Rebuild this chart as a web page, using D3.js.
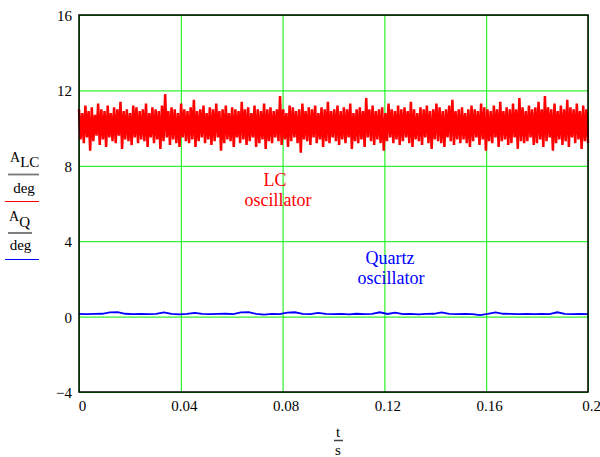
<!DOCTYPE html>
<html>
<head>
<meta charset="utf-8">
<script src="https://cdn.jsdelivr.net/npm/d3@7.9.0/dist/d3.min.js"></script>
<style>
  body { margin: 0; background: #fff; }
  svg text { font-family: "Liberation Serif", "Times New Roman", Times, "DejaVu Serif", serif; }
</style>
</head>
<body>
<svg id="chart" width="600" height="457"></svg>
<script>
// axis ticks
const xTicks = [0, 0.04, 0.08, 0.12, 0.16, 0.2];
const xTickLabels = ['0', '0.04', '0.08', '0.12', '0.16', '0.2'];
const yTicks = [-4, 0, 4, 8, 12, 16];

// LC oscillator amplitude (deg), read as alternating upper / lower swings
const lcHigh = [
  11.0, 10.8, 11.2, 10.9, 11.1, 10.7, 11.3, 11.0, 10.9, 11.2, 10.8, 11.1, 11.0, 11.4, 10.9, 11.0, 10.8, 11.2, 11.1, 10.9,
  11.0, 11.3, 10.8, 11.1, 11.0, 10.9, 11.2, 11.8, 10.9, 11.1, 11.0, 10.8, 11.3, 11.0, 10.9, 11.1, 11.5, 10.9, 11.0, 11.2,
  10.8, 11.1, 11.0, 11.3, 10.9, 11.0, 11.2, 10.8, 11.1, 11.0, 10.9, 11.4, 11.0, 11.1, 10.8, 11.2, 11.0, 10.9, 11.3, 11.0,
  11.1, 10.9, 11.0, 11.7, 11.0, 10.8, 11.2, 11.1, 10.9, 11.0, 11.3, 10.9, 11.1, 11.0, 11.2, 10.8, 11.1, 11.0, 11.4, 10.9,
  11.0, 11.2, 10.9, 11.1, 11.0, 11.3, 10.8, 11.0, 11.1, 10.9, 11.6, 11.0, 11.2, 10.9, 11.0, 11.1, 10.8, 11.3, 11.0, 10.9,
  11.2, 11.0, 11.1, 10.9, 11.4, 11.0, 10.8, 11.1, 11.0, 11.2, 10.9, 11.0, 11.3, 11.1, 10.9, 11.0, 11.2, 11.5, 10.9, 11.0,
  11.1, 10.8, 11.0, 11.2, 11.0, 10.9, 11.3, 11.1, 11.0, 10.9, 11.2, 11.0, 11.4, 10.9, 11.1, 11.0, 11.3, 11.0, 11.6, 11.1,
  10.9, 11.2, 11.0, 11.1, 11.4, 11.0, 11.7, 11.1, 11.0, 11.3, 10.9, 11.2, 11.0, 11.5, 11.1, 11.0, 11.3, 10.9, 11.2, 11.0
];
const lcLow = [
  9.4, 9.2, 9.5, 8.8, 9.3, 9.6, 9.1, 9.4, 9.0, 9.5, 9.3, 9.2, 9.6, 8.9, 9.4, 9.3, 9.1, 9.5, 9.2, 9.4,
  9.3, 9.0, 9.5, 9.2, 9.4, 8.9, 9.3, 9.5, 9.1, 9.4, 9.2, 9.0, 9.5, 9.3, 9.2, 9.4, 9.0, 9.3, 9.5, 9.2,
  9.4, 9.1, 9.3, 9.5, 8.8, 9.2, 9.4, 9.3, 9.0, 9.5, 9.2, 9.4, 9.1, 9.3, 9.5, 9.0, 9.2, 9.4, 8.9, 9.3,
  9.2, 9.5, 9.3, 9.1, 9.4, 9.0, 9.3, 9.5, 9.2, 8.7, 9.4, 9.3, 9.1, 9.5, 9.2, 9.4, 9.0, 9.3, 9.2, 9.5,
  9.3, 9.1, 9.4, 9.2, 9.5, 8.9, 9.3, 9.2, 9.4, 9.0, 9.5, 9.3, 9.1, 9.4, 9.2, 8.8, 9.3, 9.5, 9.2, 9.4,
  9.1, 9.3, 9.5, 9.2, 9.0, 9.4, 9.3, 9.1, 9.5, 9.2, 8.9, 9.4, 9.3, 9.2, 9.0, 9.5, 9.3, 9.1, 9.4, 9.2,
  9.4, 9.2, 9.0, 9.3, 9.5, 9.1, 9.4, 8.8, 9.3, 9.2, 9.5, 9.0, 9.3, 9.4, 9.1, 9.2, 9.5, 8.9, 9.3, 9.2,
  9.3, 9.5, 9.1, 9.2, 9.4, 9.0, 9.3, 9.5, 8.8, 9.2, 9.4, 9.1, 9.3, 9.0, 9.5, 9.2, 9.4, 8.9, 9.3, 9.2
];

// Quartz oscillator amplitude (deg)
const quartz = [
  0.14, 0.13, 0.14, 0.15, 0.22, 0.24, 0.15, 0.13, 0.14, 0.13, 0.14, 0.22, 0.14, 0.12, 0.14, 0.20, 0.14, 0.13, 0.14, 0.15,
  0.13, 0.22, 0.24, 0.14, 0.11, 0.14, 0.13, 0.21, 0.23, 0.14, 0.13, 0.20, 0.14, 0.13, 0.14, 0.12, 0.15, 0.13, 0.14, 0.23,
  0.14, 0.21, 0.13, 0.14, 0.12, 0.14, 0.15, 0.22, 0.14, 0.13, 0.14, 0.13, 0.08, 0.14, 0.22, 0.15, 0.14, 0.13, 0.14, 0.13,
  0.14, 0.13, 0.23, 0.14, 0.13, 0.14, 0.13
];

const tEnd = 0.2;
const serif = '"Liberation Serif", "Times New Roman", Times, "DejaVu Serif", serif';

const svg = d3.select('#chart');
const plotL = 79, plotR = 588, plotT = 15, plotB = 392;

const x = d3.scaleLinear().domain([0, tEnd]).range([plotL, plotR]);
const y = d3.scaleLinear().domain([-4, 16]).range([plotB, plotT]);

// grid + tick labels
const gx = svg.append('g')
  .attr('transform', `translate(0,${plotB})`)
  .call(d3.axisBottom(x).tickValues(xTicks).tickSize(-(plotB - plotT))
    .tickFormat((d, i) => xTickLabels[i]));
gx.attr('font-family', serif);
gx.select('.domain').remove();
gx.selectAll('line').attr('stroke', '#00ee00');
gx.selectAll('text')
  .attr('font-size', 15).attr('fill', '#000')
  .attr('x', 3).attr('y', 8);

const gy = svg.append('g')
  .attr('transform', `translate(${plotL},0)`)
  .call(d3.axisLeft(y).tickValues(yTicks).tickSize(-(plotR - plotL)));
gy.attr('font-family', serif);
gy.select('.domain').remove();
gy.selectAll('line').attr('stroke', '#00ee00');
gy.selectAll('text')
  .attr('font-size', 15).attr('fill', '#000')
  .attr('x', -7).attr('dy', '0.36em');

// LC signal: zip highs and lows into one zigzag sample sequence
let lcSamples = [];
lcHigh.forEach((h, i) => { lcSamples.push(h); lcSamples.push(lcLow[i]); });
const lcStep = tEnd / (lcSamples.length - 1);
const qStep = tEnd / (quartz.length - 1);

const line = d3.line().x(d => x(d[0])).y(d => y(d[1]));

svg.append('path')
  .datum(lcSamples.map((v, i) => [i * lcStep, v]))
  .attr('d', line)
  .attr('fill', 'none')
  .attr('stroke', '#ff0000')
  .attr('stroke-width', 2.5)
  .attr('stroke-linejoin', 'miter');

svg.append('path')
  .datum(quartz.map((v, i) => [i * qStep, v]))
  .attr('d', line)
  .attr('fill', 'none')
  .attr('stroke', '#0000ff')
  .attr('stroke-width', 1.8);

// frame
svg.append('rect')
  .attr('x', plotL).attr('y', plotT)
  .attr('width', plotR - plotL).attr('height', plotB - plotT)
  .attr('fill', 'none').attr('stroke', '#000').attr('stroke-width', 1.5);

// annotations
svg.append('text').attr('x', 275).attr('y', 186).attr('text-anchor', 'middle')
  .attr('font-size', 18).attr('fill', '#ff0000').text('LC');
svg.append('text').attr('x', 278).attr('y', 206).attr('text-anchor', 'middle')
  .attr('font-size', 18).attr('fill', '#ff0000').text('oscillator');
svg.append('text').attr('x', 390).attr('y', 264).attr('text-anchor', 'middle')
  .attr('font-size', 18).attr('fill', '#0000ff').text('Quartz');
svg.append('text').attr('x', 391).attr('y', 284).attr('text-anchor', 'middle')
  .attr('font-size', 18).attr('fill', '#0000ff').text('oscillator');

// y axis legend (Mathcad style)
const ay = svg.append('g');
let t1 = ay.append('text').attr('x', 10).attr('y', 162).attr('font-size', 14);
t1.append('tspan').text('A');
t1.append('tspan').attr('dy', 5).attr('font-size', 15).text('LC');
ay.append('line').attr('x1', 8).attr('x2', 39).attr('y1', 174.5).attr('y2', 174.5)
  .attr('stroke', '#777').attr('stroke-width', 1.8);
ay.append('text').attr('x', 24).attr('y', 193).attr('text-anchor', 'middle')
  .attr('font-size', 15).text('deg');
ay.append('line').attr('x1', 5).attr('x2', 39).attr('y1', 201.5).attr('y2', 201.5)
  .attr('stroke', '#ff0000').attr('stroke-width', 1.2);

let t2 = ay.append('text').attr('x', 9).attr('y', 221).attr('font-size', 14);
t2.append('tspan').text('A');
t2.append('tspan').attr('dy', 6).attr('font-size', 15).text('Q');
ay.append('line').attr('x1', 8).attr('x2', 32).attr('y1', 233).attr('y2', 233)
  .attr('stroke', '#555').attr('stroke-width', 1.5);
ay.append('text').attr('x', 20.5).attr('y', 250).attr('text-anchor', 'middle')
  .attr('font-size', 15).text('deg');
ay.append('line').attr('x1', 5).attr('x2', 39).attr('y1', 259.5).attr('y2', 259.5)
  .attr('stroke', '#0000ff').attr('stroke-width', 1.2);

// x axis legend
svg.append('text').attr('x', 338).attr('y', 437).attr('text-anchor', 'middle')
  .attr('font-size', 15).text('t');
svg.append('line').attr('x1', 334).attr('x2', 343).attr('y1', 440.5).attr('y2', 440.5)
  .attr('stroke', '#444').attr('stroke-width', 1.5);
svg.append('text').attr('x', 338).attr('y', 455).attr('text-anchor', 'middle')
  .attr('font-size', 15).text('s');
</script>
</body>
</html>
